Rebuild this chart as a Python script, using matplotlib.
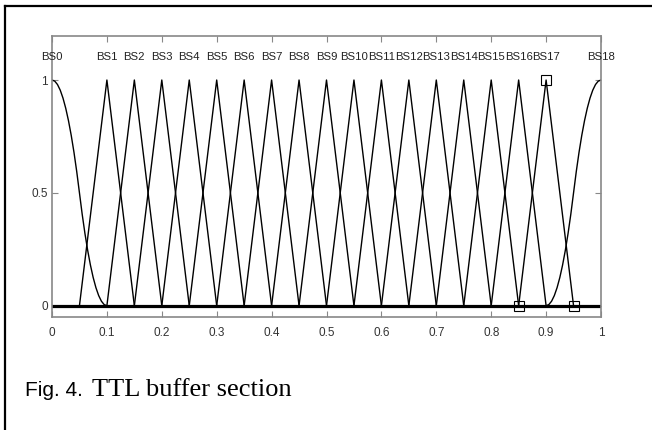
import matplotlib
matplotlib.use("Agg")
import matplotlib.pyplot as plt
from matplotlib.lines import Line2D

# ---- data ----
labels = ["BS%d" % i for i in range(19)]
label_x = [0.0, 0.10, 0.15, 0.20, 0.25, 0.30, 0.35, 0.40, 0.45, 0.50,
           0.55, 0.60, 0.65, 0.70, 0.75, 0.80, 0.85, 0.90, 1.0]
tri_peaks = [0.10, 0.15, 0.20, 0.25, 0.30, 0.35, 0.40, 0.45, 0.50,
             0.55, 0.60, 0.65, 0.70, 0.75, 0.80, 0.85, 0.90]
tri_half_width = 0.05
tri_y = [0.0, 1.0, 0.0]
bs0_x = [0.000, 0.005, 0.010, 0.015, 0.020, 0.025, 0.030, 0.035, 0.040, 0.045,
         0.050, 0.055, 0.060, 0.065, 0.070, 0.075, 0.080, 0.085, 0.090, 0.095, 0.100]
bs0_y = [1.000, 0.995, 0.980, 0.955, 0.920, 0.875, 0.820, 0.755, 0.680, 0.595,
         0.500, 0.405, 0.320, 0.245, 0.180, 0.125, 0.080, 0.045, 0.020, 0.005, 0.000]
bs18_x = [0.900, 0.905, 0.910, 0.915, 0.920, 0.925, 0.930, 0.935, 0.940, 0.945,
          0.950, 0.955, 0.960, 0.965, 0.970, 0.975, 0.980, 0.985, 0.990, 0.995, 1.000]
bs18_y = [0.000, 0.005, 0.020, 0.045, 0.080, 0.125, 0.180, 0.245, 0.320, 0.405,
          0.500, 0.595, 0.680, 0.755, 0.820, 0.875, 0.920, 0.955, 0.980, 0.995, 1.000]
marker_x = [0.85, 0.90, 0.95]
marker_y = [0.0, 1.0, 0.0]
xticks = [0, 0.1, 0.2, 0.3, 0.4, 0.5, 0.6, 0.7, 0.8, 0.9, 1]
xtick_labels = ["0", "0.1", "0.2", "0.3", "0.4", "0.5", "0.6", "0.7", "0.8", "0.9", "1"]
yticks = [0, 0.5, 1]
ytick_labels = ["0", "0.5", "1"]
caption_a = "Fig. 4."
caption_b = "TTL buffer section"

sans = ["Liberation Sans", "DejaVu Sans"]

fig = plt.figure(figsize=(6.52, 4.30), dpi=100)
W, H = 652.0, 430.0

# outer frame (top and left visible)
fig.add_artist(Line2D([5 / W, 1.0], [1 - 6 / H, 1 - 6 / H], color="black", lw=1.6))
fig.add_artist(Line2D([5 / W, 5 / W], [0.0, 1 - 6 / H], color="black", lw=1.6))

ax = fig.add_axes([52 / W, 1 - 317 / H, (601 - 52) / W, (317 - 36) / H])
ax.set_xlim(0, 1)
ax.set_ylim(-0.05, 1.195)

lw = 1.0
ax.plot(bs0_x, bs0_y, color="black", lw=lw)
ax.plot(bs18_x, bs18_y, color="black", lw=lw)
for p in tri_peaks:
    ax.plot([p - tri_half_width, p, p + tri_half_width], tri_y, color="black", lw=lw)
ax.plot([0, 1], [0, 0], color="black", lw=2.3)
ax.plot(marker_x, marker_y, ls="none", marker="s", ms=6.5, mfc="none",
        mec="black", mew=0.8)

for lab, x in zip(labels, label_x):
    ax.text(x, 1.10, lab, ha="center", va="center", fontsize=8.2,
            family=sans, color="#222222")

ax.set_xticks(xticks)
ax.set_xticklabels(xtick_labels)
ax.set_yticks(yticks)
ax.set_yticklabels(ytick_labels)
ax.tick_params(direction="in", length=4, width=0.8, color="#888888",
               top=True, right=True, labelsize=8.5, labelcolor="#333333")
ax.tick_params(axis="x", pad=7)
ax.tick_params(axis="y", pad=3)
for lab in ax.get_xticklabels() + ax.get_yticklabels():
    lab.set_family(sans)
for s in ax.spines.values():
    s.set_color("#888888")
    s.set_linewidth(1.2)

fig.text(25 / W, 1 - 396 / H, caption_a, fontsize=15,
         family=sans, va="baseline", ha="left")
fig.text(92 / W, 1 - 396 / H, caption_b, fontsize=19,
         family=["Liberation Serif", "DejaVu Serif"], va="baseline", ha="left")

fig.savefig("out.png", dpi=100)
